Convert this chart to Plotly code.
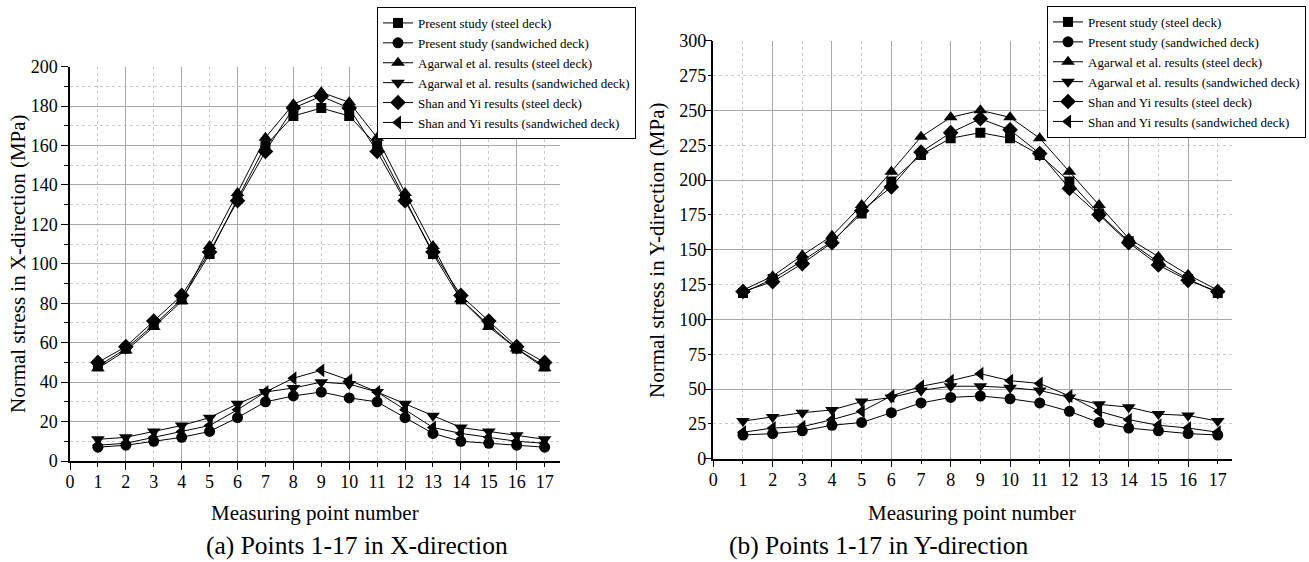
import plotly.graph_objects as go

points = list(range(1, 18))

series_names = [
    "Present study (steel deck)",
    "Present study (sandwiched deck)",
    "Agarwal et al. results (steel deck)",
    "Agarwal et al. results (sandwiched deck)",
    "Shan and Yi results (steel deck)",
    "Shan and Yi results (sandwiched deck)",
]
symbols = ["square", "circle", "triangle-up", "triangle-down", "diamond", "triangle-left"]
marker_sizes = [10, 11, 12, 12, 12, 12]

# (a) X-direction
x_present_steel = [48, 57, 69, 82, 105, 133, 160, 175, 179, 175, 160, 133, 105, 82, 69, 57, 48]
x_present_sand = [7, 8, 10, 12, 15, 22, 30, 33, 35, 32, 30, 22, 14, 10, 9, 8, 7]
x_agarwal_steel = [47, 56, 68, 81, 109, 136, 164, 181, 187, 182, 164, 136, 109, 82, 68, 57, 47]
x_agarwal_sand = [11, 12, 15, 18, 22, 29, 35, 37, 40, 39, 35, 29, 23, 17, 15, 13, 11]
x_shan_steel = [50, 58, 71, 84, 106, 132, 157, 179, 185, 179, 157, 132, 106, 84, 71, 58, 50]
x_shan_sand = [8, 9, 12, 15, 18, 26, 35, 42, 46, 41, 35, 26, 17, 14, 12, 10, 9]

# (b) Y-direction
y_present_steel = [119, 129, 142, 156, 176, 199, 218, 230, 234, 230, 218, 199, 176, 156, 141, 129, 119]
y_present_sand = [17, 18, 20, 24, 26, 33, 40, 44, 45, 43, 40, 34, 26, 22, 20, 18, 17]
y_agarwal_steel = [121, 131, 146, 160, 182, 206, 231, 245, 250, 245, 230, 206, 182, 158, 145, 132, 121]
y_agarwal_sand = [27, 30, 33, 35, 41, 44, 49, 52, 52, 51, 49, 44, 39, 37, 32, 31, 27]
y_shan_steel = [120, 127, 140, 155, 178, 195, 220, 234, 244, 236, 219, 194, 175, 155, 139, 128, 120]
y_shan_sand = [19, 22, 23, 28, 34, 45, 52, 56, 61, 56, 54, 45, 34, 28, 24, 22, 19]

x_series = [x_present_steel, x_present_sand, x_agarwal_steel, x_agarwal_sand, x_shan_steel, x_shan_sand]
y_series = [y_present_steel, y_present_sand, y_agarwal_steel, y_agarwal_sand, y_shan_steel, y_shan_sand]

FONT = "Liberation Serif, Times New Roman, serif"
W, H = 1309, 562

fig = go.Figure()

for name, sym, ms, vals in zip(series_names, symbols, marker_sizes, x_series):
    fig.add_trace(go.Scatter(
        x=points, y=vals, name=name, mode="lines+markers",
        line=dict(color="black", width=1),
        marker=dict(symbol=sym, size=ms, color="black"),
        xaxis="x", yaxis="y", legend="legend",
    ))
for name, sym, ms, vals in zip(series_names, symbols, marker_sizes, y_series):
    fig.add_trace(go.Scatter(
        x=points, y=vals, name=name, mode="lines+markers",
        line=dict(color="black", width=1),
        marker=dict(symbol=sym, size=ms, color="black"),
        xaxis="x2", yaxis="y2", legend="legend2",
    ))

# helper traces so the label-only overlay axes are drawn
fig.add_trace(go.Scatter(x=[None], y=[None], xaxis="x3", yaxis="y", showlegend=False, hoverinfo="skip"))
fig.add_trace(go.Scatter(x=[None], y=[None], xaxis="x4", yaxis="y2", showlegend=False, hoverinfo="skip"))
fig.add_trace(go.Scatter(x=[None], y=[None], xaxis="x2", yaxis="y4", showlegend=False, hoverinfo="skip"))

tickfont = dict(family=FONT, size=18, color="black")
major_grid = "#a8a8a8"
minor_grid = "#cccccc"

def grid_axis(domain, rng, dtick, minor_dtick, anchor, labels):
    return dict(
        domain=domain, range=rng, anchor=anchor,
        showline=True, linecolor="black", linewidth=1.5,
        ticks="outside", ticklen=7, tickwidth=1.2, tickcolor="black",
        dtick=dtick, tick0=0,
        showticklabels=labels, tickfont=tickfont,
        showgrid=True, gridcolor=major_grid, gridwidth=1,
        minor=dict(dtick=minor_dtick, tick0=0, ticks="outside", ticklen=4, tickcolor="black",
                   showgrid=True, gridcolor=minor_grid, griddash="dot", gridwidth=1),
        zeroline=False, automargin=False, fixedrange=True,
    )

def label_axis(overlay, rng, dtick, anchor, side, standoff):
    return dict(
        overlaying=overlay, range=rng, anchor=anchor, side=side,
        dtick=dtick, tick0=0, showline=False, showgrid=False, zeroline=False,
        ticks="", showticklabels=True, tickfont=tickfont, ticklabelstandoff=standoff,
        automargin=False, fixedrange=True,
    )

xd1 = [70 / W, 560 / W]
yd1 = [1 - 461 / H, 1 - 66.7 / H]
xd2 = [713.3 / W, 1231.7 / W]
yd2 = [1 - 458.7 / H, 1 - 40.7 / H]

fig.update_layout(
    width=W, height=H,
    margin=dict(l=0, r=0, t=0, b=0),
    paper_bgcolor="white", plot_bgcolor="white",
    font=dict(family=FONT, color="black"),
    xaxis=grid_axis(xd1, [0, 17.55], 2, 1, "y", False),
    yaxis=grid_axis(yd1, [0, 200], 20, 10, "x", True),
    xaxis2=grid_axis(xd2, [0, 17.47], 2, 1, "y2", False),
    yaxis2=grid_axis(yd2, [0, 300], 50, 25, "x2", False),
    xaxis3=label_axis("x", [0, 17.55], 1, "y", "bottom", 8),
    xaxis4=label_axis("x2", [0, 17.47], 1, "y2", "bottom", 8),
    yaxis4=label_axis("y2", [0, 300], 25, "x2", "left", 6),
    legend=dict(x=377 / W, y=1 - 7 / H, xanchor="left", yanchor="top",
                bgcolor="white", bordercolor="black", borderwidth=1,
                font=dict(family=FONT, size=13, color="black"), tracegroupgap=0),
    legend2=dict(x=1306 / W, y=1 - 6 / H, xanchor="right", yanchor="top",
                 bgcolor="white", bordercolor="black", borderwidth=1,
                 font=dict(family=FONT, size=13, color="black"), tracegroupgap=0),
    showlegend=True,
)

ann_font = dict(family=FONT, size=21, color="black")
annotations = [
    dict(text="Normal stress in X-direction (MPa)", x=18 / W, y=1 - 264 / H, textangle=-90, font=ann_font),
    dict(text="Normal stress in Y-direction (MPa)", x=657 / W, y=1 - 250 / H, textangle=-90, font=ann_font),
    dict(text="Measuring point number", x=315 / W, y=1 - 513 / H, font=ann_font),
    dict(text="Measuring point number", x=972 / W, y=1 - 513 / H, font=ann_font),
    dict(text="(a) Points 1-17 in X-direction", x=357 / W, y=1 - 545 / H, font=dict(family=FONT, size=25.5, color="black")),
    dict(text="(b) Points 1-17 in Y-direction", x=879 / W, y=1 - 545 / H, font=dict(family=FONT, size=25.5, color="black")),
]
for a in annotations:
    a.update(xref="paper", yref="paper", showarrow=False, xanchor="center", yanchor="middle")
fig.update_layout(annotations=annotations)

fig.write_html("out.html")
